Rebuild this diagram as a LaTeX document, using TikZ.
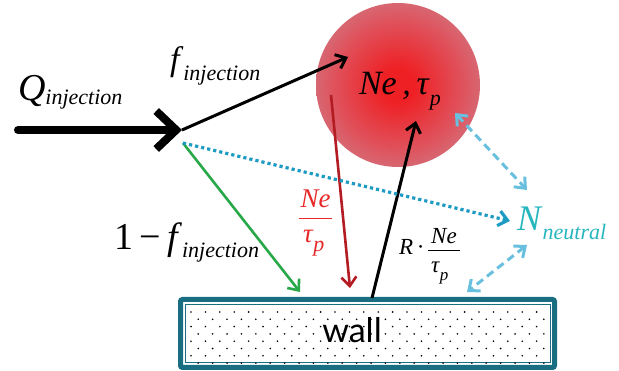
\documentclass[tikz,border=0pt]{standalone}
\usepackage{fontspec}
\setmainfont{Liberation Serif}
\newfontfamily\wallfont{Lato}
\usetikzlibrary{arrows.meta}
\definecolor{wallteal}{RGB}{25,110,130}
\definecolor{ballin}{RGB}{238,32,36}
\definecolor{ballmid}{RGB}{224,80,90}
\definecolor{ballout}{RGB}{200,140,152}
\definecolor{redarrow}{RGB}{180,28,36}
\definecolor{redtext}{RGB}{232,40,40}
\definecolor{greenarrow}{RGB}{40,168,72}
\definecolor{dotblue}{RGB}{30,155,195}
\definecolor{dashblue}{RGB}{105,192,222}
\definecolor{neutralc}{RGB}{40,182,190}
\pgfdeclareradialshading{ball}{\pgfpoint{0bp}{0bp}}{color(0bp)=(ballin); color(5bp)=(ballin); color(19bp)=(ballmid); color(35bp)=(ballout); color(50bp)=(ballout)}
\newcommand\bigf{\fontsize{38}{40}\selectfont}
\newcommand\midf{\fontsize{34}{36}\selectfont}
\newcommand\subf{\fontsize{22}{24}\selectfont}
\newcommand\lowsub[2]{\raisebox{#1}{\subf\textit{#2}}}
\begin{document}
\begin{tikzpicture}[x=1pt,y=-1pt,
  lab/.style={anchor=base west,inner sep=0pt,outer sep=0pt},
  ctr/.style={anchor=base,inner sep=0pt,outer sep=0pt},
  barbtip/.style={-{Straight Barb[length=9pt,width=15pt]}},
  bigarrow/.style={line width=8pt,line cap=round,-{Straight Barb[length=20pt,width=38pt]}},
  blackarrow/.style={line width=3pt,barbtip},
  redarr/.style={redarrow,line width=2.6pt,barbtip},
  greenarr/.style={greenarrow,line width=2.6pt,barbtip},
  dotarr/.style={dotblue,line width=3.2pt,dash pattern=on 3.2pt off 3pt,-{Straight Barb[length=9pt,width=15pt]}},
  dasharr/.style={dashblue,line width=3pt,dash pattern=on 8pt off 5pt,{Straight Barb[length=9pt,width=15pt]}-{Straight Barb[length=9pt,width=15pt]}},
  fracbar/.style={line width=0.8pt}
]
\useasboundingbox (0,0) rectangle (619,371);

% ball
\node[circle,minimum size=164pt,inner sep=0pt,shading=ball] (ball) at (398,85) {};
\node[lab] (nelab) at (359,95) {\midf\textit{Ne\,,\,τ}\lowsub{-11pt}{p}};

% wall
\node[draw=wallteal,line width=5pt,rounded corners=2pt,minimum width=374pt,minimum height=68pt,inner sep=0pt] (wall) at (367.5,333.5) {};
\draw[wallteal,line width=0.8pt] (185,304.5) rectangle (550,362.5);
\foreach \r in {0,...,7}{
  \pgfmathsetmacro\yy{312+\r*7.3}
  \pgfmathsetmacro\off{mod(\r,2)==0 ? 0 : 7.2}
  \foreach \c in {0,...,24}{
    \pgfmathsetmacro\xx{191+\off+\c*14.4}
    \ifdim\xx pt<547pt
      \fill (\xx,\yy) circle (0.9pt);
    \fi
  }
}
\node[ctr] (walltext) at (352,343) {\wallfont\fontsize{34}{36}\selectfont wall};

% coordinates
\coordinate (qstart) at (18,130);
\coordinate (hub) at (182,130);
\coordinate (hubb) at (183,143);
\coordinate (fin) at (348,57);
\coordinate (redstart) at (331,95);
\coordinate (redend) at (350,288);
\coordinate (upstart) at (372,298);
\coordinate (upend) at (416,121);
\coordinate (greenend) at (300,292);
\coordinate (dotend) at (510,221);
\coordinate (d1a) at (455,113);
\coordinate (d1b) at (527,190);
\coordinate (d2a) at (527,245);
\coordinate (d2b) at (467,292);

% arrows
\draw[bigarrow] (qstart) -- (hub);
\draw[blackarrow] (hub) -- (fin);
\draw[redarr] (redstart) -- (redend);
\draw[blackarrow] (upstart) -- (upend);
\draw[greenarr] (hubb) -- (greenend);
\draw[dotarr] (hubb) -- (dotend);
\draw[dasharr] (d1a) -- (d1b);
\draw[dasharr] (d2a) -- (d2b);

% labels
\node[lab] (qlab) at (18,101) {\bigf\textit{Q}\lowsub{-4pt}{injection}};
\node[lab] (flab) at (170,71) {\midf\textit{f}\lowsub{-10pt}{injection}};
\node[lab] (oneminus) at (114,250) {\bigf 1\,−\,\textit{f}\lowsub{-8pt}{injection}};
\node[lab,neutralc] (nlab) at (517,231) {\fontsize{36}{38}\selectfont\textit{N}\lowsub{-9pt}{neutral}};

% red fraction
\node[ctr,redtext] (rnum) at (315.5,208) {\fontsize{27}{28}\selectfont\textit{Ne}};
\draw[redtext,fracbar] (299,218) -- (332,218);
\node[lab,redtext] (rden) at (303,243) {\fontsize{27}{28}\selectfont\textit{τ}\lowsub{-9pt}{p}};

% R fraction
\node[lab] (rlab) at (399,255) {\fontsize{23}{24}\selectfont\textit{R}\,·};
\node[ctr] (bnum) at (444,244) {\fontsize{23}{24}\selectfont\textit{Ne}};
\draw[fracbar] (428,250) -- (460,250);
\node[lab] (bden) at (431,273) {\fontsize{23}{24}\selectfont\textit{τ}\raisebox{-8pt}{\fontsize{17}{18}\selectfont\textit{p}}};
\end{tikzpicture}
\end{document}
